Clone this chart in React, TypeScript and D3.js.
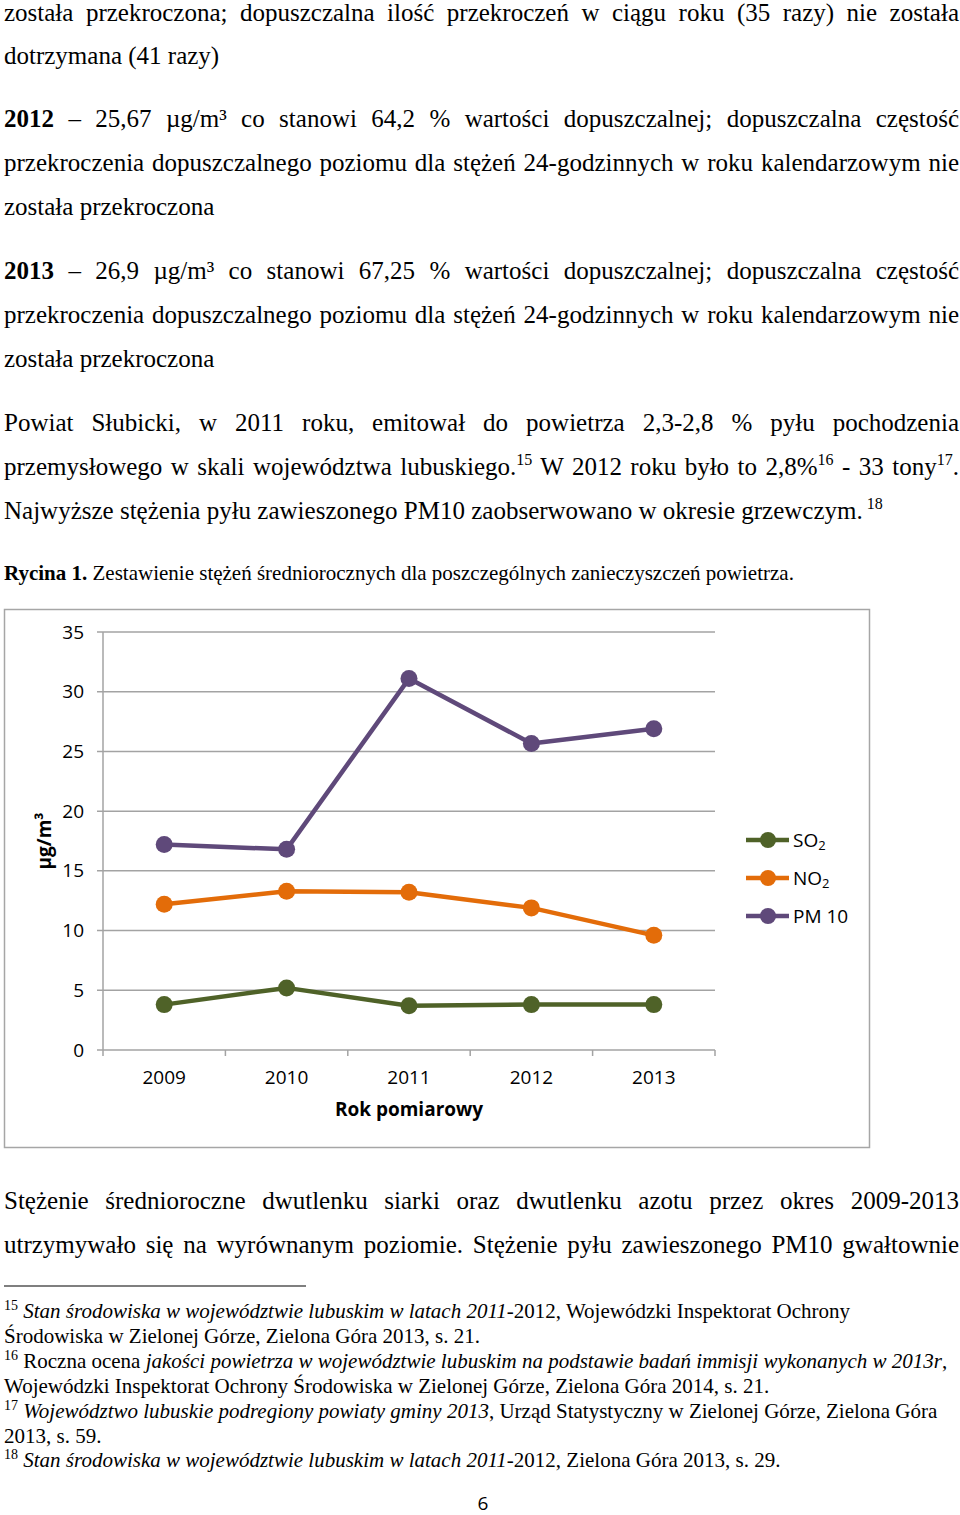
import React, { useLayoutEffect, useRef } from 'react';
import * as d3 from 'd3';

// ---------- data ----------
const years = ['2009', '2010', '2011', '2012', '2013'];
const so2 = [3.8, 5.2, 3.7, 3.8, 3.8];
const no2 = [12.2, 13.3, 13.2, 11.9, 9.6];
const pm10 = [17.2, 16.8, 31.1, 25.67, 26.9];
const yTicks = [0, 5, 10, 15, 20, 25, 30, 35];
const seriesNames = ['SO', 'NO', 'PM 10'];
const seriesSub = ['2', '2', ''];
const seriesColors = ['#4f6228', '#e36c09', '#5f497a'];

type Run = { t: string; b?: boolean; i?: boolean; sup?: boolean };

const bodyLines: { y: number; runs: Run[]; j: boolean }[] = [
  { y: 21, j: true, runs: [{ t: 'została przekroczona; dopuszczalna ilość przekroczeń w ciągu roku (35 razy) nie została' }] },
  { y: 64, j: false, runs: [{ t: 'dotrzymana (41 razy)' }] },
  { y: 127, j: true, runs: [{ t: '2012', b: true }, { t: ' – 25,67 µg/m³ co stanowi 64,2 % wartości dopuszczalnej; dopuszczalna częstość' }] },
  { y: 171, j: true, runs: [{ t: 'przekroczenia dopuszczalnego poziomu dla stężeń 24-godzinnych w roku kalendarzowym nie' }] },
  { y: 215, j: false, runs: [{ t: 'została przekroczona' }] },
  { y: 279, j: true, runs: [{ t: '2013', b: true }, { t: ' – 26,9 µg/m³ co stanowi 67,25 % wartości dopuszczalnej; dopuszczalna częstość' }] },
  { y: 323, j: true, runs: [{ t: 'przekroczenia dopuszczalnego poziomu dla stężeń 24-godzinnych w roku kalendarzowym nie' }] },
  { y: 367, j: false, runs: [{ t: 'została przekroczona' }] },
  { y: 431, j: true, runs: [{ t: 'Powiat Słubicki, w 2011 roku, emitował do powietrza 2,3-2,8 % pyłu pochodzenia' }] },
  { y: 475, j: true, runs: [{ t: 'przemysłowego w skali województwa lubuskiego.' }, { t: '15', sup: true }, { t: ' W 2012 roku było to 2,8%' }, { t: '16', sup: true }, { t: ' - 33 tony' }, { t: '17', sup: true }, { t: '.' }] },
  { y: 519, j: false, runs: [{ t: 'Najwyższe stężenia pyłu zawieszonego PM10 zaobserwowano w okresie grzewczym.' }, { t: ' 18', sup: true }] },
  { y: 1209, j: true, runs: [{ t: 'Stężenie średnioroczne dwutlenku siarki oraz dwutlenku azotu przez okres 2009-2013' }] },
  { y: 1253, j: true, runs: [{ t: 'utrzymywało się na wyrównanym poziomie. Stężenie pyłu zawieszonego PM10 gwałtownie' }] },
];

const captionRuns: Run[] = [
  { t: 'Rycina 1.', b: true },
  { t: ' Zestawienie stężeń średniorocznych dla poszczególnych zanieczyszczeń powietrza.' },
];

const footLines: { y: number; runs: Run[] }[] = [
  { y: 1318, runs: [{ t: '15', sup: true }, { t: ' Stan środowiska w województwie lubuskim w latach 2011', i: true }, { t: '-2012, Wojewódzki Inspektorat Ochrony' }] },
  { y: 1343, runs: [{ t: 'Środowiska w Zielonej Górze, Zielona Góra 2013, s. 21.' }] },
  { y: 1368, runs: [{ t: '16', sup: true }, { t: ' Roczna ocena ' }, { t: 'jakości powietrza w województwie lubuskim na podstawie badań immisji wykonanych w 2013r', i: true }, { t: ',' }] },
  { y: 1393, runs: [{ t: 'Wojewódzki Inspektorat Ochrony Środowiska w Zielonej Górze, Zielona Góra 2014, s. 21.' }] },
  { y: 1418, runs: [{ t: '17', sup: true }, { t: ' Województwo lubuskie podregiony powiaty gminy 2013', i: true }, { t: ', Urząd Statystyczny w Zielonej Górze, Zielona Góra' }] },
  { y: 1443, runs: [{ t: '2013, s. 59.' }] },
  { y: 1467, runs: [{ t: '18', sup: true }, { t: ' Stan środowiska w województwie lubuskim w latach 2011', i: true }, { t: '-2012, Zielona Góra 2013, s. 29.' }] },
];

const SERIF = "'Liberation Serif', 'Times New Roman', serif";
const SANS = "'Open Sans', 'Noto Sans', sans-serif";

function TextLine({ x = 4, y, runs, justify = false, width = 955, fontSize = 25, supSize = 16, supRaise = 10 }:
  { x?: number; y: number; runs: Run[]; justify?: boolean; width?: number; fontSize?: number; supSize?: number; supRaise?: number }) {
  const ref = useRef<SVGTextElement>(null);
  useLayoutEffect(() => {
    const el = ref.current;
    if (!el || !justify) return;
    el.style.wordSpacing = '0px';
    const w = el.getComputedTextLength();
    const spaces = (el.textContent || '').split(' ').length - 1;
    if (spaces > 0) el.style.wordSpacing = (width - w) / spaces + 'px';
  }, [justify, width]);
  let raised = false;
  return (
    <text ref={ref} x={x} y={y} fontFamily={SERIF} fontSize={fontSize} fill="#000" style={{ whiteSpace: 'pre' }}>
      {runs.map((r, k) => {
        let dy = 0;
        if (r.sup && !raised) { dy = -supRaise; raised = true; }
        else if (!r.sup && raised) { dy = supRaise; raised = false; }
        return (
          <tspan key={k} dy={dy || undefined} fontWeight={r.b ? 'bold' : undefined} fontStyle={r.i ? 'italic' : undefined}
            fontSize={r.sup ? supSize : undefined}>{r.t}</tspan>
        );
      })}
    </text>
  );
}

export default function App() {
  const x = d3.scaleBand<string>().domain(years).range([103, 715]);
  const y = d3.scaleLinear().domain([0, 35]).range([1050, 632]);
  const cx = (d: string) => (x(d) as number) + x.bandwidth() / 2;
  const line = d3.line<number>().x((_, i) => cx(years[i])).y((v) => y(v));
  const allSeries = [so2, no2, pm10];
  const tickXs = years.map((d) => x(d) as number).concat([715]);
  const gridColor = '#a3a3a3';

  return (
    <svg width={960} height={1515} style={{ position: 'absolute', left: 0, top: 0, background: '#fff' }}>
      <rect x={0} y={0} width={960} height={1515} fill="#fff" />
      {bodyLines.map((l, k) => (
        <TextLine key={k} y={l.y} runs={l.runs} justify={l.j} />
      ))}
      <TextLine y={580} runs={captionRuns} fontSize={21} />

      {/* chart */}
      <rect x={4.5} y={609.5} width={865} height={538} fill="#fff" stroke="#a6a6a6" strokeWidth={1.5} />
      {yTicks.map((t) => (
        <g key={t}>
          <line x1={97} x2={715} y1={y(t)} y2={y(t)} stroke={gridColor} strokeWidth={1.5} />
          <text x={84} y={y(t) + 6.5} textAnchor="end" fontFamily={SANS} fontSize={19} fill="#000">{t}</text>
        </g>
      ))}
      <line x1={103} x2={103} y1={y(35)} y2={y(0)} stroke={gridColor} strokeWidth={1.5} />
      {tickXs.map((tx, k) => (
        <line key={k} x1={tx} x2={tx} y1={y(0)} y2={y(0) + 6} stroke={gridColor} strokeWidth={1.5} />
      ))}
      {years.map((d) => (
        <text key={d} x={cx(d)} y={1084} textAnchor="middle" fontFamily={SANS} fontSize={19} fill="#000">{d}</text>
      ))}
      <text x={409} y={1116} textAnchor="middle" fontFamily={SANS} fontSize={19} fontWeight="bold" fill="#000">Rok pomiarowy</text>
      <text transform="translate(51,841) rotate(-90)" textAnchor="middle" fontFamily={SANS} fontSize={19} fontWeight="bold" fill="#000">µg/m³</text>

      {allSeries.map((s, si) => (
        <g key={si}>
          <path d={line(s) || ''} fill="none" stroke={seriesColors[si]} strokeWidth={4.5} strokeLinejoin="round" />
          {s.map((v, i) => (
            <circle key={i} cx={cx(years[i])} cy={y(v)} r={8.5} fill={seriesColors[si]} />
          ))}
        </g>
      ))}

      {/* legend */}
      {seriesNames.map((n, si) => {
        const ly = 840 + si * 38;
        return (
          <g key={n}>
            <line x1={746} x2={789} y1={ly} y2={ly} stroke={seriesColors[si]} strokeWidth={4.5} />
            <circle cx={768} cy={ly} r={8} fill={seriesColors[si]} />
            <text x={793} y={ly + 7} fontFamily={SANS} fontSize={19} fill="#000">
              {n}
              {seriesSub[si] ? <tspan fontSize={13} dy={3}>{seriesSub[si]}</tspan> : null}
            </text>
          </g>
        );
      })}

      {/* footnotes */}
      <line x1={4} x2={306} y1={1286} y2={1286} stroke="#000" strokeWidth={1.2} />
      {footLines.map((l, k) => (
        <TextLine key={k} y={l.y} runs={l.runs} fontSize={21} supSize={14} supRaise={8} />
      ))}
      <text x={483} y={1510} textAnchor="middle" fontFamily={SANS} fontSize={19} fill="#000">6</text>
    </svg>
  );
}
